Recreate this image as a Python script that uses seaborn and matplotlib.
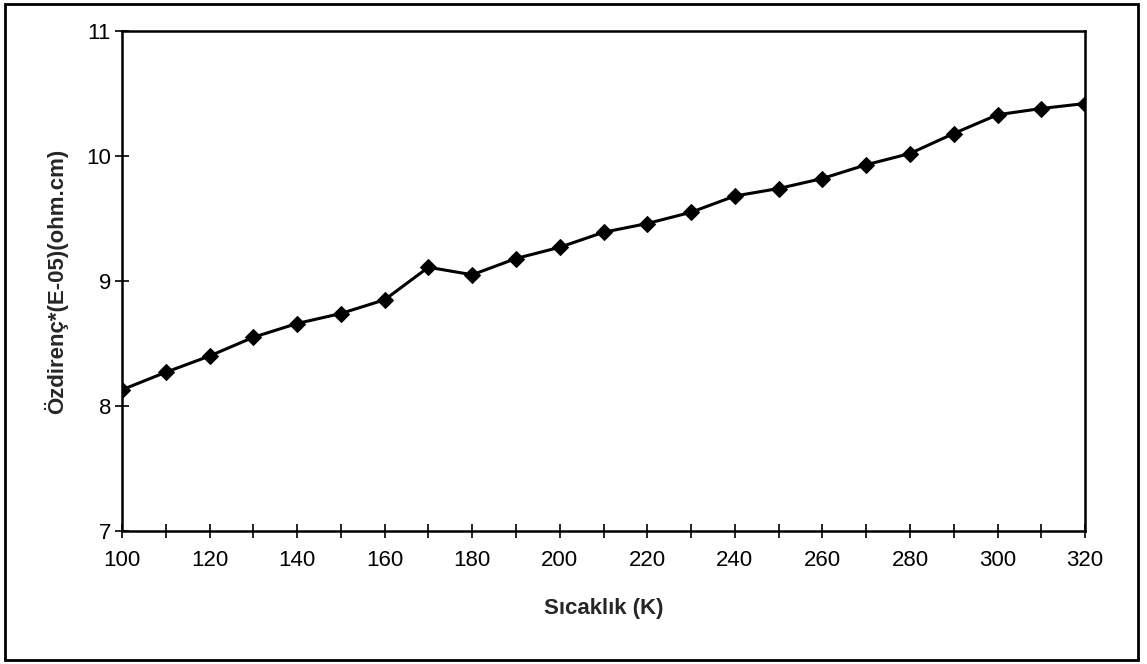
import matplotlib
matplotlib.use("Agg")
import matplotlib.pyplot as plt
import seaborn as sns
import pandas as pd
from matplotlib.patches import Rectangle

temperature = [100, 110, 120, 130, 140, 150, 160, 170, 180, 190, 200, 210,
               220, 230, 240, 250, 260, 270, 280, 290, 300, 310, 320]
resistivity = [8.13, 8.27, 8.40, 8.55, 8.66, 8.74, 8.85, 9.11, 9.05, 9.18, 9.27, 9.39,
               9.46, 9.55, 9.68, 9.74, 9.82, 9.93, 10.02, 10.18, 10.33, 10.38, 10.42]
x_ticks = list(range(100, 321, 20))
x_minor = list(range(100, 321, 10))
y_ticks = [7, 8, 9, 10, 11]

sns.set_theme(style="white")
plt.rcParams['font.family'] = ['Liberation Sans', 'DejaVu Sans']

df = pd.DataFrame({"T": temperature, "rho": resistivity})

fig = plt.figure(figsize=(11.47, 6.64), dpi=100)
ax = fig.add_axes([0.1064, 0.2003, 0.8396, 0.7530])

sns.lineplot(data=df, x="T", y="rho", ax=ax, color="black", linewidth=2.2,
             marker="D", markersize=8, markeredgecolor="black", markerfacecolor="black")

ax.set_xlim(100, 320)
ax.set_ylim(7, 11)
ax.set_xticks(x_ticks)
ax.set_xticks(x_minor, minor=True)
ax.set_yticks(y_ticks)
ax.tick_params(axis="both", which="both", direction="inout", color="black",
               width=1.2, labelsize=16, labelcolor="black", bottom=True, left=True)
ax.tick_params(axis="both", which="major", length=10)
ax.tick_params(axis="x", which="minor", length=10)
ax.tick_params(axis="x", pad=9)
ax.tick_params(axis="y", pad=3)
for s in ax.spines.values():
    s.set_visible(True)
    s.set_color("black")
    s.set_linewidth(1.8)

ax.set_xlabel("Sıcaklık (K)", fontsize=16, fontweight="bold", labelpad=19)
ax.set_ylabel("Özdirenç*(E-05)(ohm.cm)", fontsize=16, fontweight="bold", labelpad=13)

fig.patches.append(Rectangle((0.004, 0.006), 0.988, 0.988, transform=fig.transFigure,
                             fill=False, edgecolor="black", linewidth=2))

fig.savefig("out.png", dpi=100)
